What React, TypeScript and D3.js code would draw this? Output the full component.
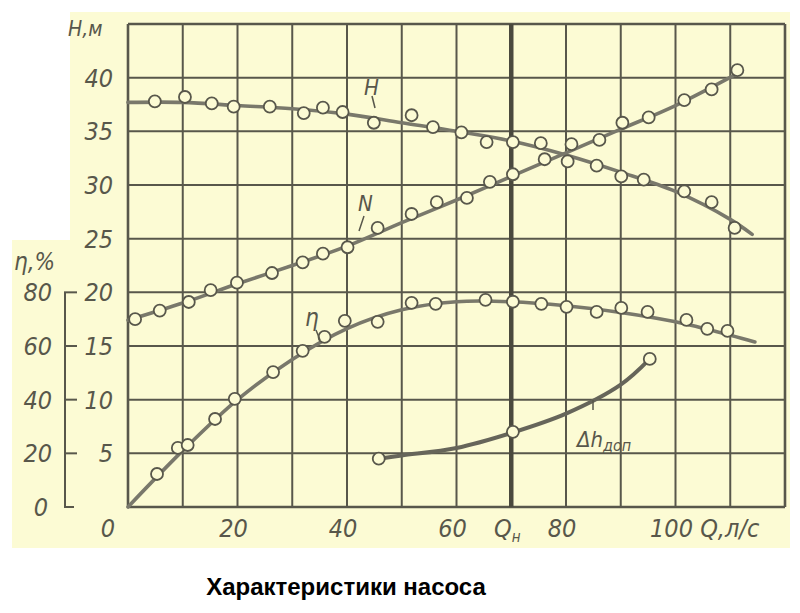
import React from 'react';
import * as d3 from 'd3';

// Q in l/s, H and N on the left scale, eta in %, dh on the H scale
const headPoints: [number, number][] = [
  [4.9, 37.8], [10.4, 38.2], [15.3, 37.6], [19.3, 37.3], [25.9, 37.3], [32.1, 36.7],
  [35.6, 37.2], [39.2, 36.8], [44.9, 35.8], [51.8, 36.5], [55.7, 35.4], [60.9, 34.9],
  [65.5, 34.0], [70.3, 34.0], [75.4, 33.9], [80.3, 32.2], [85.6, 31.8], [90.1, 30.8],
  [94.2, 30.5], [101.6, 29.4], [106.6, 28.4], [110.8, 26.0],
];
const headCurve: [number, number][] = [
  [0, 37.7], [10, 37.7], [20, 37.4], [30, 37.1], [40, 36.6], [50, 35.8], [60, 35.0],
  [70, 34.1], [80, 32.8], [90, 31.2], [100, 29.4], [110, 26.8], [114, 25.4],
];

const powerPoints: [number, number][] = [
  [1.3, 17.5], [5.8, 18.3], [11.1, 19.1], [15.1, 20.2], [19.9, 20.9], [26.3, 21.8],
  [31.9, 22.8], [35.6, 23.6], [40.1, 24.2], [45.6, 26.0], [51.8, 27.3], [56.4, 28.4],
  [61.9, 28.8], [66.1, 30.3], [70.3, 31.0], [76.1, 32.4], [81.0, 33.8], [86.1, 34.2],
  [90.3, 35.8], [95.1, 36.3], [101.6, 37.9], [106.6, 38.9], [111.3, 40.7],
];
const powerCurve: [number, number][] = [
  [0, 17.4], [10, 19.0], [20, 20.8], [30, 22.5], [40, 24.3], [50, 26.5], [60, 28.6],
  [70, 30.8], [80, 33.0], [90, 35.2], [100, 37.4], [111, 40.3],
];

const etaPoints: [number, number][] = [
  [5.3, 12.3], [9.1, 22.0], [10.9, 23.1], [15.9, 32.8], [19.5, 40.3], [26.5, 50.3],
  [31.9, 58.2], [35.9, 63.4], [39.6, 69.4], [45.6, 69.0], [51.8, 76.1], [56.2, 75.7],
  [65.3, 77.2], [70.3, 76.5], [75.5, 75.7], [80.1, 74.6], [85.6, 72.7], [90.1, 74.2],
  [94.9, 72.7], [102.0, 69.7], [105.8, 66.4], [109.5, 65.6],
];
const etaCurve: [number, number][] = [
  [0, 0], [10, 21], [20, 40], [30, 55], [40, 66.5], [50, 73.5], [60, 76.5], [70, 76.5],
  [80, 75], [90, 72.5], [100, 69], [110, 64], [114.5, 61.5],
];

const dhPoints: [number, number][] = [[45.8, 4.5], [70.3, 7.0], [95.3, 13.8]];
const dhCurve: [number, number][] = [
  [45.8, 4.5], [50, 4.8], [60, 5.5], [70, 6.9], [80, 8.7], [90, 11.4], [95.3, 13.8],
];

const qGrid = d3.range(0, 121, 10);
const hGrid = d3.range(0, 46, 5);
const qLabels = [
  { q: 0, text: '0' }, { q: 20, text: '20' }, { q: 40, text: '40' }, { q: 60, text: '60' },
  { q: 80, text: '80' }, { q: 100, text: '100' },
];
const hLabels = [5, 10, 15, 20, 25, 30, 35, 40];
const etaLabels = [0, 20, 40, 60, 80];
const qNominal = 70;

const ink = '#58574b';
const curveInk = '#79786b';
const paper = '#fcfbd4';
const font = '"DejaVu Sans Condensed", "DejaVu Sans", sans-serif';

export default function App() {
  const x = d3.scaleLinear().domain([0, 120]).range([128, 785]);
  const y = d3.scaleLinear().domain([0, 45]).range([507, 24]);
  const yEta = d3.scaleLinear().domain([0, 180]).range([507, 24]);

  const line = (sy: d3.ScaleLinear<number, number>) =>
    d3.line<[number, number]>()
      .x(d => x(d[0]))
      .y(d => sy(d[1]))
      .curve(d3.curveCatmullRom.alpha(0.5));

  const circles = (pts: [number, number][], sy: d3.ScaleLinear<number, number>, key: string) =>
    pts.map((d, i) => (
      <circle key={key + i} cx={x(d[0])} cy={sy(d[1])} r={6} fill={paper} stroke={ink} strokeWidth={1.8} />
    ));

  const labelStyle = { fontFamily: font, fontStyle: 'italic' as const, fill: ink };

  return (
    <svg width={800} height={613} style={{ position: 'absolute', left: 0, top: 0, background: '#fff' }}>
      <path d="M70,12 H790 V548 H12 V240 H70 Z" fill={paper} />

      {/* grid */}
      {qGrid.map(q => (
        <line key={'vq' + q} x1={x(q)} x2={x(q)} y1={y(45)} y2={y(0)} stroke={ink} strokeWidth={q === 0 || q === 120 ? 2.6 : 2} />
      ))}
      {hGrid.map(h => (
        <line key={'hh' + h} x1={x(0)} x2={x(120)} y1={y(h)} y2={y(h)} stroke={ink} strokeWidth={h === 0 || h === 45 ? 2.6 : 2} />
      ))}
      <line x1={x(qNominal)} x2={x(qNominal)} y1={y(45)} y2={y(0)} stroke="#4a493e" strokeWidth={4.5} />

      {/* eta axis bracket */}
      <line x1={65} x2={65} y1={yEta(80)} y2={yEta(0)} stroke={ink} strokeWidth={2} />
      {etaLabels.map(e => (
        <g key={'et' + e}>
          <line x1={64} x2={e === 0 ? 74 : 77} y1={yEta(e)} y2={yEta(e)} stroke={ink} strokeWidth={2} />
          <text x={e === 0 ? 48 : 52} y={yEta(e) + 9} textAnchor="end" fontSize={25} {...labelStyle}>{e}</text>
        </g>
      ))}
      <text x={14} y={270} fontSize={24} {...labelStyle}>η,%</text>

      {/* H axis labels */}
      {hLabels.map(h => (
        <text key={'hl' + h} x={113} y={y(h) + 9} textAnchor="end" fontSize={25} {...labelStyle}>{h}</text>
      ))}
      <text x={68} y={36} fontSize={21} {...labelStyle}>H,м</text>

      {/* Q axis labels */}
      {qLabels.map(l => (
        <text key={'ql' + l.q} x={l.q === 0 ? x(0) - 20 : x(l.q) - 4} y={537} textAnchor="middle" fontSize={25} {...labelStyle}>{l.text}</text>
      ))}
      <text x={x(qNominal) - 4} y={537} textAnchor="middle" fontSize={25} {...labelStyle}>
        Q<tspan fontSize={15} dy={5}>н</tspan>
      </text>
      <text x={x(104.5)} y={537} fontSize={25} {...labelStyle}>Q,л/с</text>

      {/* curves */}
      <g fill="none" stroke={curveInk} strokeWidth={3.6} strokeLinecap="round">
        <path d={line(y)(headCurve) ?? ''} />
        <path d={line(y)(powerCurve) ?? ''} />
        <path d={line(yEta)(etaCurve) ?? ''} />
        <path d={line(y)(dhCurve) ?? ''} stroke="#66655a" strokeWidth={4} />
      </g>
      {circles(headPoints, y, 'h')}
      {circles(powerPoints, y, 'n')}
      {circles(etaPoints, yEta, 'e')}
      {circles(dhPoints, y, 'd')}

      {/* curve labels with leader ticks */}
      <g stroke={ink} strokeWidth={1.5}>
        <line x1={372} y1={96} x2={375} y2={108} />
        <line x1={364} y1={216} x2={359} y2={231} />
        <line x1={316} y1={330} x2={320} y2={340} />
        <line x1={593} y1={400} x2={593} y2={410} />
      </g>
      <text x={364} y={95} fontSize={22} {...labelStyle}>H</text>
      <text x={358} y={211} fontSize={22} {...labelStyle}>N</text>
      <text x={305} y={326} fontSize={24} {...labelStyle}>η</text>
      <text x={577} y={447} fontSize={22} {...labelStyle}>
        Δh<tspan fontSize={16} dy={4}>доп</tspan>
      </text>

      <text x={346} y={595} textAnchor="middle" fontFamily='"Liberation Sans", Arial, sans-serif' fontWeight="bold" fontSize={24} fill="#000">
        Характеристики насоса
      </text>
    </svg>
  );
}
